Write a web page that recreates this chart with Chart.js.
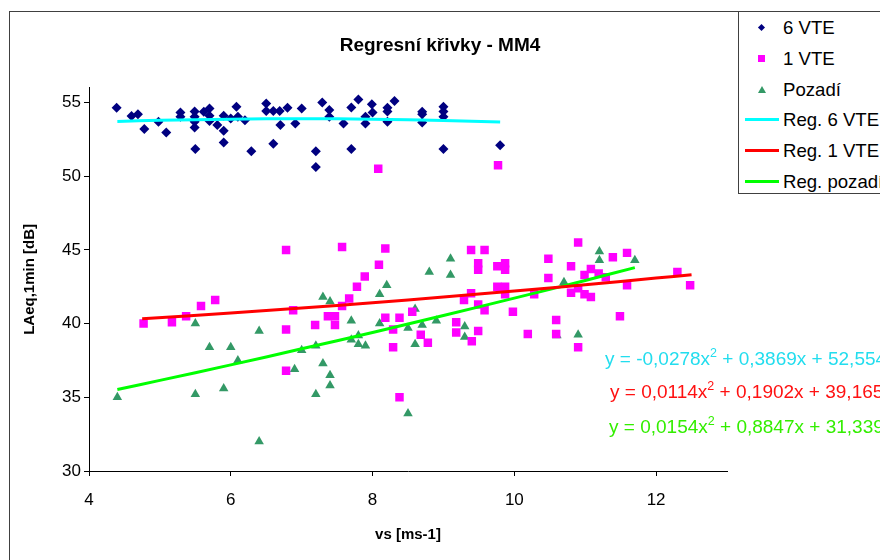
<!DOCTYPE html>
<html>
<head>
<meta charset="utf-8">
<script src="https://cdn.jsdelivr.net/npm/chart.js@4.4.0/dist/chart.umd.min.js"></script>
<style>
  body { margin: 0; width: 880px; height: 560px; overflow: hidden; background: #fff; position: relative; font-family: 'Liberation Sans', Arial, sans-serif; }
  #frame { position: absolute; left: 9px; top: 11px; width: 900px; height: 600px; border: 1px solid #404040; }
  #chart { position: absolute; left: 0; top: 0; }
  #legend { position: absolute; left: 738px; top: 11px; width: 170px; height: 181px; border: 1px solid #404040; background: #fff; }
  .row { position: absolute; left: 0; width: 170px; height: 22px; }
  .row span.txt { position: absolute; left: 44px; top: 0; font-size: 18.6px; line-height: 22px; color: #000; white-space: nowrap; }
  .mk { position: absolute; }
  .eq { position: absolute; font-size: 19px; line-height: 24px; white-space: nowrap; }
  .eq sup { font-size: 12.5px; vertical-align: 8px; line-height: 0; }
</style>
</head>
<body>
<div id="frame"></div>
<canvas id="chart" width="880" height="560"></canvas>

<div id="legend">
  <div class="row" style="top:5px"><div class="mk" style="left:20px;top:8px;width:5px;height:5px;background:#000080;transform:rotate(45deg)"></div><span class="txt">6 VTE</span></div>
  <div class="row" style="top:36px"><div class="mk" style="left:19px;top:7px;width:7px;height:7px;background:#ff00ff"></div><span class="txt">1 VTE</span></div>
  <div class="row" style="top:67px"><div class="mk" style="left:19px;top:7px;width:0;height:0;border-left:4px solid transparent;border-right:4px solid transparent;border-bottom:7px solid #339966"></div><span class="txt">Pozadí</span></div>
  <div class="row" style="top:97px"><div class="mk" style="left:6px;top:9px;width:34px;height:3px;background:#00ffff"></div><span class="txt">Reg. 6 VTE</span></div>
  <div class="row" style="top:128px"><div class="mk" style="left:6px;top:9px;width:34px;height:3px;background:#ff0000"></div><span class="txt">Reg. 1 VTE</span></div>
  <div class="row" style="top:159px"><div class="mk" style="left:6px;top:9px;width:34px;height:3px;background:#00ff00"></div><span class="txt">Reg. pozadí</span></div>
</div>

<div class="eq" style="left:605px;top:347px;color:#22ddee">y = -0,0278x<sup>2</sup> + 0,3869x + 52,554</div>
<div class="eq" style="left:610px;top:380px;color:#ff1111">y = 0,0114x<sup>2</sup> + 0,1902x + 39,165</div>
<div class="eq" style="left:609px;top:415px;color:#33ee00">y = 0,0154x<sup>2</sup> + 0,8847x + 31,339</div>

<script>
// 6 VTE
const vte6X = [4.39, 4.60, 4.69, 4.78, 4.98, 5.09, 5.29, 5.29, 5.49, 5.49, 5.49, 5.49, 5.50, 5.62, 5.70, 5.70, 5.70, 5.81, 5.90, 5.90,
  5.90, 6.00, 6.08, 6.10, 6.20, 6.29, 6.50, 6.50, 6.60, 6.60, 6.69, 6.70, 6.80, 6.91, 7.00, 7.29, 7.39, 7.39, 7.59, 7.70,
  7.80, 7.90, 7.90, 7.99, 8.00, 8.21, 8.21, 8.21, 8.31, 8.70, 8.70, 8.70, 9.00, 9.00, 9.00, 7.20, 7.20, 7.70, 9.00, 9.80];
const vte6Y = [54.65, 54.08, 54.20, 53.20, 53.70, 52.97, 54.33, 54.03, 54.40, 54.03, 53.70, 53.30, 51.84, 54.37, 54.60, 54.10, 53.75, 53.47, 54.10, 53.08,
  52.29, 53.92, 54.71, 54.03, 53.80, 51.70, 54.94, 54.42, 54.42, 52.20, 54.42, 53.47, 54.65, 53.58, 54.60, 55.00, 54.49, 54.03, 53.58, 54.67,
  55.20, 54.03, 53.58, 54.88, 54.33, 54.65, 54.40, 53.70, 55.10, 54.37, 54.20, 53.65, 54.71, 54.40, 54.03, 51.70, 50.63, 51.84, 51.84, 52.10];

// 1 VTE
const vte1X = [4.77, 5.17, 5.37, 5.58, 5.78, 6.78, 6.78, 6.78, 6.88, 7.19, 7.37, 7.47, 7.47, 7.57, 7.57, 7.67, 7.78, 7.89, 8.08, 8.09,
  8.18, 8.18, 8.29, 8.29, 8.38, 8.38, 8.56, 8.68, 8.78, 9.18, 9.18, 9.29, 9.39, 9.39, 9.40, 9.49, 9.49, 9.49, 9.49, 9.58,
  9.58, 9.76, 9.76, 9.77, 9.87, 9.87, 9.87, 9.87, 9.98, 10.19, 10.28, 10.48, 10.48, 10.59, 10.59, 10.80, 10.80, 10.90, 10.90, 10.90,
  10.99, 10.99, 11.08, 11.08, 11.19, 11.29, 11.39, 11.49, 11.59, 11.59, 12.30, 12.48];
const vte1Y = [40.00, 40.10, 40.50, 41.20, 41.60, 45.00, 39.60, 36.80, 40.90, 39.90, 40.50, 40.50, 39.90, 45.20, 41.20, 41.70, 42.50, 43.20, 50.50, 44.00,
  45.10, 40.40, 39.60, 38.40, 40.40, 35.00, 40.80, 39.25, 38.70, 40.10, 39.40, 41.60, 45.00, 42.06, 38.80, 44.10, 43.65, 41.30, 39.50, 45.00,
  40.90, 43.90, 42.50, 50.75, 44.10, 43.65, 42.50, 42.00, 40.80, 39.30, 42.00, 44.40, 43.10, 40.25, 39.30, 43.90, 42.10, 45.50, 42.40, 38.40,
  43.30, 42.00, 43.70, 41.80, 43.40, 43.15, 44.50, 40.50, 44.80, 42.60, 43.50, 42.60];

// Pozadí
const pozX = [4.40, 5.50, 5.50, 5.70, 5.90, 6.00, 6.10, 6.40, 6.40, 6.90, 7.00, 7.20, 7.20, 7.30, 7.30, 7.40, 7.40, 7.40, 7.70, 7.70,
  7.80, 7.80, 7.90, 8.10, 8.10, 8.20, 8.50, 8.50, 8.60, 8.60, 8.70, 8.80, 8.90, 9.10, 9.10, 9.30, 9.30, 10.60, 10.70, 10.90,
  11.20, 11.20, 11.70];
const pozY = [35.00, 40.00, 35.20, 38.40, 35.60, 38.40, 37.50, 39.50, 32.00, 36.90, 38.20, 38.50, 35.20, 37.30, 41.80, 41.50, 36.50, 35.80, 40.20, 38.90,
  39.20, 38.60, 38.50, 42.00, 40.00, 42.60, 39.70, 33.90, 41.00, 38.60, 39.90, 43.50, 40.20, 44.40, 43.30, 39.80, 39.10, 39.20, 42.80, 39.25,
  44.90, 44.30, 44.30];

// regression curves
const reg6X = [4.4, 5, 6, 7, 8, 9, 9.8];
const reg6Y = [53.72, 53.79, 53.87, 53.90, 53.87, 53.78, 53.68];
const reg1X = [4.75, 6, 7, 8, 9, 10, 11, 12, 12.5];
const reg1Y = [40.33, 40.72, 41.06, 41.42, 41.80, 42.21, 42.64, 43.09, 43.32];
const regPX = [4.4, 5, 6, 7, 8, 9, 10, 11, 11.7];
const regPY = [35.53, 36.15, 37.20, 38.29, 39.40, 40.55, 41.73, 42.93, 43.80];

const pts = (xs, ys) => xs.map((x, i) => ({ x: x, y: ys[i] }));

Chart.defaults.font.family = "'Liberation Sans', Arial, sans-serif";
Chart.defaults.color = '#000';

function marks(label, xs, ys, style, color, radius) {
  return {
    label: label, data: pts(xs, ys), order: 1,
    pointStyle: style, pointRadius: radius, pointHoverRadius: radius,
    backgroundColor: color, borderColor: color, pointBorderWidth: 0
  };
}

function curve(label, xs, ys, color) {
  return {
    label: label, data: pts(xs, ys), order: 0, showLine: true,
    borderColor: color, borderWidth: 3, pointRadius: 0, tension: 0.4
  };
}

new Chart(document.getElementById('chart'), {
  type: 'scatter',
  data: {
    datasets: [
      marks('6 VTE', vte6X, vte6Y, 'rectRot', '#000080', 5),
      marks('1 VTE', vte1X, vte1Y, 'rect', '#ff00ff', 6),
      marks('Pozadí', pozX, pozY, 'triangle', '#339966', 5.5),
      curve('Reg. 6 VTE', reg6X, reg6Y, '#00ffff'),
      curve('Reg. 1 VTE', reg1X, reg1Y, '#ff0000'),
      curve('Reg. pozadí', regPX, regPY, '#00ff00')
    ]
  },
  options: {
    responsive: false,
    animation: false,
    layout: { padding: 0 },
    plugins: {
      legend: { display: false },
      tooltip: { enabled: false },
      title: {
        display: true, text: 'Regresní křivky - MM4', color: '#000',
        font: { size: 19, weight: 'bold' }, padding: { top: 34, bottom: 31 }
      }
    },
    scales: {
      x: {
        type: 'linear', position: 'bottom', min: 4, max: 13,
        ticks: { stepSize: 2, includeBounds: false, font: { size: 17 }, padding: 14 },
        grid: { drawOnChartArea: false, tickLength: 5, color: '#000' },
        border: { color: '#000' },
        title: { display: true, text: 'vs [ms-1]', font: { size: 15, weight: 'bold' }, padding: { top: 0, bottom: 16 } },
        afterFit: s => { s.height = 89; }
      },
      y: {
        type: 'linear', position: 'left', min: 30, max: 56,
        ticks: { stepSize: 5, includeBounds: false, font: { size: 17 }, padding: 3 },
        grid: { drawOnChartArea: false, tickLength: 5, color: '#000' },
        border: { color: '#000' },
        title: { display: true, text: 'LAeq,1min [dB]', font: { size: 15, weight: 'bold' }, padding: { top: 21, bottom: 0 } },
        afterFit: s => { s.width = 89; }
      },
      // empty right-hand space where the legend sits
      yr: {
        type: 'linear', position: 'right', display: true,
        grid: { display: false }, ticks: { display: false }, border: { display: false },
        afterFit: s => { s.width = 153; }
      }
    }
  }
});
</script>
</body>
</html>
